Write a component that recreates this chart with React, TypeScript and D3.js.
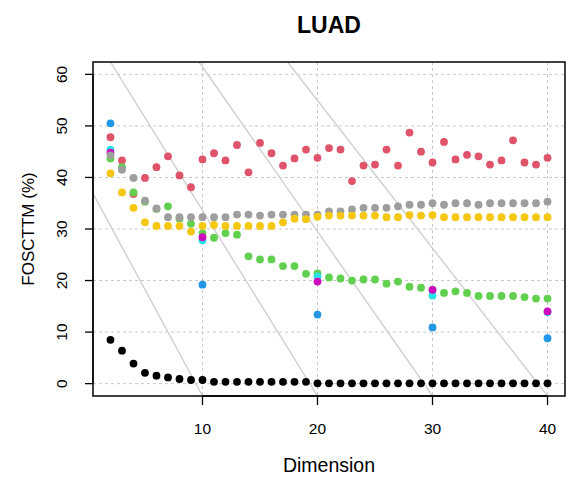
import React from "react";
import * as d3 from "d3";

// Embedding dimensions evaluated
const dims = [
  2, 3, 4, 5, 6, 7, 8, 9, 10, 11, 12, 13, 14, 15, 16, 17, 18, 19, 20, 21,
  22, 23, 24, 25, 26, 27, 28, 29, 30, 31, 32, 33, 34, 35, 36, 37, 38, 39, 40,
];

// FOSCTTM (%) per method, one value per dimension
const redVals = [
  47.8, 43.3, 36.8, 39.9, 42.0, 44.1, 40.4, 38.1, 43.5, 44.7, 43.3, 46.3, 41.0,
  46.7, 44.7, 42.3, 43.7, 45.4, 43.8, 45.7, 45.4, 39.3, 42.3, 42.5, 45.4, 42.3,
  48.7, 45.0, 42.9, 46.9, 43.5, 44.4, 44.1, 42.5, 43.3, 47.2, 42.9, 42.5, 43.8,
];
const greenVals = [
  43.7, 42.0, 37.1, 35.3, 33.9, 34.4, 32.0, 31.0, 29.2, 28.3, 29.2, 28.9, 24.7,
  24.1, 24.1, 22.8, 22.8, 21.3, 21.4, 20.6, 20.4, 20.0, 20.2, 20.2, 19.4, 19.8,
  18.8, 18.6, 18.2, 17.6, 17.9, 17.6, 17.0, 17.0, 17.0, 17.0, 16.8, 16.5, 16.5,
];
const grayVals = [
  44.3, 41.5, 39.9, 35.5, 34.0, 32.3, 32.3, 32.3, 32.3, 32.3, 32.3, 32.8, 32.8,
  32.6, 32.8, 32.8, 32.8, 32.8, 32.8, 33.4, 33.4, 33.8, 34.1, 34.1, 34.1, 34.4,
  34.7, 34.7, 35.0, 34.7, 35.0, 35.0, 34.7, 35.0, 35.0, 35.0, 35.0, 35.0, 35.3,
];
const yellowVals = [
  40.8, 37.1, 34.1, 31.3, 30.6, 30.6, 30.6, 29.5, 30.6, 30.8, 30.6, 30.6, 30.6,
  30.6, 30.6, 31.3, 32.0, 31.9, 32.4, 32.6, 32.6, 32.6, 32.6, 32.6, 32.3, 32.3,
  32.7, 32.6, 32.7, 32.3, 32.3, 32.3, 32.3, 32.3, 32.3, 32.3, 32.3, 32.3, 32.3,
];
const blackVals = [
  8.5, 6.4, 3.9, 2.1, 1.55, 1.2, 0.9, 0.7, 0.7, 0.35, 0.35, 0.35, 0.35, 0.35,
  0.35, 0.35, 0.35, 0.35, 0.05, 0.05, 0.05, 0.05, 0.05, 0.05, 0.05, 0.05, 0.05,
  0.05, 0.05, 0.05, 0.05, 0.05, 0.05, 0.05, 0.05, 0.05, 0.05, 0.05, 0.05,
];

// Methods only evaluated at a few dimensions
const sparseDims = [2, 10, 20, 30, 40];
const blueVals = [50.5, 19.2, 13.4, 10.9, 8.8];
const cyanVals = [45.4, 27.8, 20.8, 17.1, 13.9];
const magentaVals = [44.8, 28.4, 19.8, 18.2, 14.0];

const xTicks = [10, 20, 30, 40];
const yTicks = [0, 10, 20, 30, 40, 50, 60];

// Reference diagonals: x where each crosses the top and bottom of the plot
const diagTop = [-5.7, 2.0, 9.7, 17.4];
const diagBottom = [10, 20, 30, 40];

const series = [
  { xs: dims, ys: redVals, color: "#DF536B" },
  { xs: dims, ys: greenVals, color: "#61D04F" },
  { xs: sparseDims, ys: blueVals, color: "#2297E6" },
  { xs: sparseDims, ys: cyanVals, color: "#28E2E5" },
  { xs: sparseDims, ys: magentaVals, color: "#CD0BBC" },
  { xs: dims, ys: grayVals, color: "#9E9E9E" },
  { xs: dims, ys: yellowVals, color: "#F5C710" },
  { xs: dims, ys: blackVals, color: "#000000" },
];

const W = 568;
const H = 479;
const left = 93;
const right = 565;
const top = 62;
const bottom = 396;

export default function App() {
  const xDom = [2 - 0.04 * 38, 40 + 0.04 * 38];
  const yDom = [0 - 0.04 * 60, 60 + 0.04 * 60];
  const x = d3.scaleLinear().domain(xDom).range([left, right]);
  const y = d3.scaleLinear().domain(yDom).range([bottom, top]);
  const font = "Liberation Sans, Arial, Helvetica, sans-serif";
  const cx = (left + right) / 2;
  const cy = (top + bottom) / 2;

  return (
    <div style={{ position: "absolute", left: 0, top: 0 }}>
      <svg width={W} height={H} style={{ display: "block", background: "#fff" }}>
        <defs>
          <clipPath id="plotArea">
            <rect x={left} y={top} width={right - left} height={bottom - top} />
          </clipPath>
        </defs>

        {/* grid */}
        <g stroke="#c8c8c8" strokeWidth={1} strokeDasharray="3,3">
          {xTicks.map((t) => (
            <line key={"gx" + t} x1={x(t)} x2={x(t)} y1={top} y2={bottom} />
          ))}
          {yTicks.map((t) => (
            <line key={"gy" + t} x1={left} x2={right} y1={y(t)} y2={y(t)} />
          ))}
        </g>

        {/* diagonal reference lines */}
        <g clipPath="url(#plotArea)" stroke="#cfcfcf" strokeWidth={1.4}>
          {diagTop.map((t, i) => (
            <line
              key={"d" + i}
              x1={x(t)}
              y1={y(yDom[1])}
              x2={x(diagBottom[i])}
              y2={y(yDom[0])}
            />
          ))}
        </g>

        {/* points */}
        {series.map((s, si) => (
          <g key={"s" + si} fill={s.color}>
            {s.ys.map((v, i) => (
              <circle key={i} cx={x(s.xs[i])} cy={y(v)} r={3.9} />
            ))}
          </g>
        ))}

        {/* box */}
        <rect
          x={left}
          y={top}
          width={right - left}
          height={bottom - top}
          fill="none"
          stroke="#000"
          strokeWidth={1.5}
        />

        {/* x axis */}
        <g stroke="#000" strokeWidth={1.3}>
          <line x1={x(xTicks[0])} x2={x(xTicks[xTicks.length - 1])} y1={bottom} y2={bottom} />
          {xTicks.map((t) => (
            <line key={"tx" + t} x1={x(t)} x2={x(t)} y1={bottom} y2={bottom + 9} />
          ))}
        </g>
        <g fontFamily={font} fontSize={15.5} fill="#000" textAnchor="middle">
          {xTicks.map((t) => (
            <text key={"lx" + t} x={x(t)} y={434}>
              {t}
            </text>
          ))}
        </g>

        {/* y axis */}
        <g stroke="#000" strokeWidth={1.3}>
          <line x1={left} x2={left} y1={y(yTicks[0])} y2={y(yTicks[yTicks.length - 1])} />
          {yTicks.map((t) => (
            <line key={"ty" + t} x1={left - 8} x2={left} y1={y(t)} y2={y(t)} />
          ))}
        </g>
        <g fontFamily={font} fontSize={15.5} fill="#000" textAnchor="middle">
          {yTicks.map((t) => (
            <text key={"ly" + t} transform={`translate(67,${y(t)}) rotate(-90)`}>
              {t}
            </text>
          ))}
        </g>

        {/* labels */}
        <text
          x={cx}
          y={472}
          fontFamily={font}
          fontSize={19.5}
          textAnchor="middle"
          fill="#000"
        >
          Dimension
        </text>
        <text
          transform={`translate(34,${cy}) rotate(-90)`}
          fontFamily={font}
          fontSize={17}
          textAnchor="middle"
          fill="#000"
        >
          FOSCTTM (%)
        </text>
        <text
          x={cx}
          y={33}
          fontFamily={font}
          fontSize={23}
          fontWeight="bold"
          textAnchor="middle"
          fill="#000"
        >
          LUAD
        </text>
      </svg>
    </div>
  );
}
